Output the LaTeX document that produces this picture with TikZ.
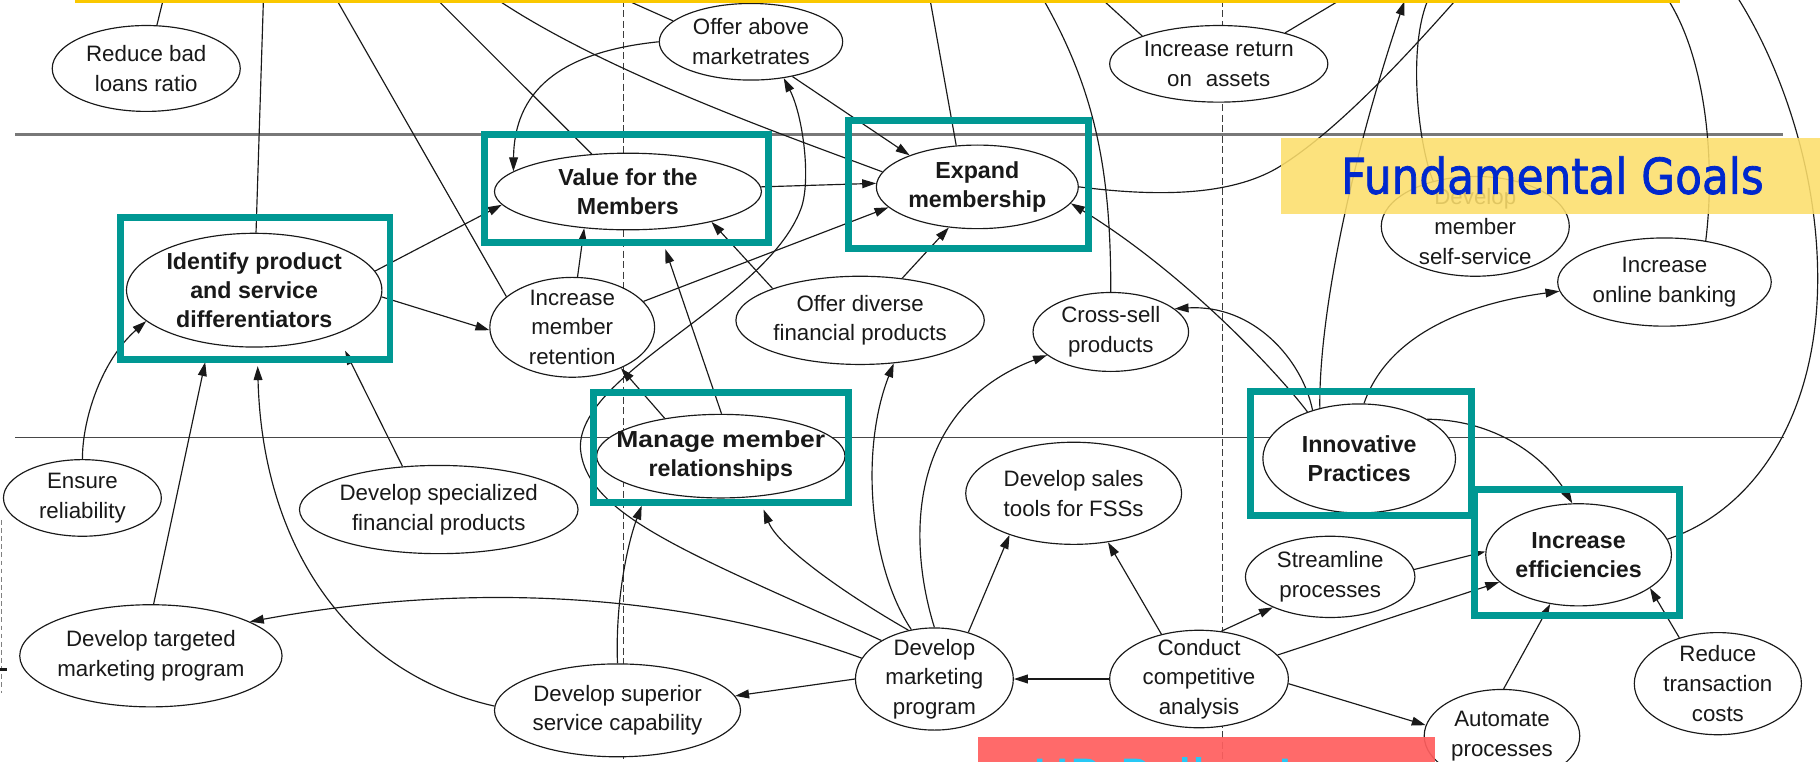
\documentclass[tikz,border=0pt]{standalone}
\usepackage{fontspec}
\setmainfont{Liberation Sans}
\newfontfamily\titlefont[FakeBold=1.6]{DejaVu Sans}
\usetikzlibrary{shapes.geometric,arrows.meta}
\pgfdeclarelayer{back}
\pgfsetlayers{back,main}
\definecolor{ink}{RGB}{25,25,25}
\definecolor{boxteal}{RGB}{0,152,147}
\definecolor{bandyellow}{RGB}{252,222,108}
\definecolor{titleblue}{RGB}{0,40,205}
\definecolor{goldline}{RGB}{250,200,0}
\definecolor{alertred}{RGB}{255,94,94}
\definecolor{hrcyan}{RGB}{40,200,245}
\definecolor{rulegray}{RGB}{120,120,120}

\tikzset{
  goal/.style 2 args={ellipse, draw=ink, line width=0.5pt, fill=white,
    inner sep=-60pt, minimum width=#1pt, minimum height=#2pt,
    align=center, text=ink, font=\fontsize{9.6}{12.8}\selectfont},
  keygoal/.style 2 args={goal={#1}{#2}, font=\fontsize{10}{12.6}\selectfont\bfseries},
  link/.style={draw=ink, line width=0.5pt},
  arr/.style={link, -{Triangle[length=6pt,width=3.8pt]}},
  hilite/.style={draw=boxteal, line width=3pt},
  lane/.style={draw=ink!85, line width=0.5pt, dash pattern=on 3pt off 1.5pt},
}

\begin{document}
\begin{tikzpicture}[x=0.5pt, y=-0.5pt]
\useasboundingbox (0,0) rectangle (1568,656);
\clip (0,0) rectangle (1568,656);

% ---------- objectives ----------
\node[goal={81}{37}] (rbl) at (126,59) {Reduce bad\\loans ratio};
\node[goal={79}{33}] (oam) at (647,36) {Offer above\\marketrates};
\node[goal={94}{33}] (iroa) at (1050,55) {Increase return\\on\hspace{6pt}assets};
\node[keygoal={115}{33}] (vfm) at (541,165) {Value for the\\Members};
\node[keygoal={87}{36}] (exm) at (842,161) {Expand\\membership};
\node[keygoal={110}{49}] (ipsd) at (219,250) {Identify product\\and service\\differentiators};
\node[goal={71}{43}] (imr) at (493,282) {Increase\\member\\retention};
\node[goal={107}{38}] (odfp) at (741,276) {Offer diverse\\financial products};
\node[goal={67}{34}] (csp) at (957,286) {Cross-sell\\products};
\node[goal={81}{43}] (dmss) at (1271,195) {Develop\\member\\self-service};
\node[goal={92}{38}] (iob) at (1434,243) {Increase\\online banking};
\node[keygoal={83}{47}] (ip) at (1171,395) {Innovative\\Practices};
\node[keygoal={80}{44}] (ie) at (1360,478) {Increase\\efficiencies};
\node[keygoal={107}{36}] (mmr) at (621,393) {\scalebox{1.14}[1]{Manage member}\\relationships};
\node[goal={68}{33}] (er) at (71,429) {Ensure\\reliability};
\node[goal={120}{38}] (dsfp) at (378,439) {Develop specialized\\financial products};
\node[goal={93}{44}] (dst) at (925,425) {Develop sales\\tools for FSSs};
\node[goal={73}{35}] (sp) at (1146,497) {Streamline\\processes};
\node[goal={113}{44}] (dtmp) at (130,565) {Develop targeted\\marketing program};
\node[goal={106}{40}] (dssc) at (532,612) {Develop superior\\service capability};
\node[goal={68}{44}] (dmp) at (805,585) {Develop\\marketing\\program};
\node[goal={77}{42}] (cca) at (1033,585) {Conduct\\competitive\\analysis};
\node[goal={67}{40}] (ap) at (1294,634) {Automate\\processes};
\node[goal={72}{44}] (rtc) at (1480,589) {Reduce\\transaction\\costs};

% ends of links that leave the sheet at the top
\coordinate (t1) at (141,-2);
\coordinate (t2) at (227,-2);
\coordinate (t3) at (289,-2);
\coordinate (t4) at (375,-2);
\coordinate (t5) at (426,-2);
\coordinate (t6) at (535,-2);
\coordinate (t7) at (801,-2);
\coordinate (t8) at (898,-2);
\coordinate (t9) at (948,-2);
\coordinate (t10) at (1158,-2);
\coordinate (t11) at (1256,-2);
\coordinate (t12) at (1210,1);
\coordinate (t13) at (1231,-2);
\coordinate (t14) at (1436,-2);
\coordinate (t15) at (1497,-2);

\begin{pgfonlayer}{back}
\clip (0,0) rectangle (1568,656);
\fill[white] (0,0) rectangle (1568,656);
% tier rules and column guides
\draw[rulegray, line width=1pt] (13,116) -- (1536,116);
\draw[ink!80, line width=0.6pt] (13,377) -- (1537,377);
\draw[lane] (537,0) -- (537,656);
\draw[lane] (1053,0) -- (1053,656);
\draw[gray, line width=0.4pt, dash pattern=on 2pt off 1.5pt] (1,448) -- (1,597);
\draw[ink, line width=1.3pt] (0,577) -- (6,577);

% links leaving the top
\draw[link] (rbl) -- (t1);
\draw[link] (ipsd) -- (t2);
\draw[link] (imr.155) -- (t3);
\draw[link] (vfm.134) -- (t4);
\draw[link] (t5) .. controls (520,62) and (680,118) .. (exm.171);
\draw[link] (oam.165) -- (t6);
\draw[link] (exm.117) -- (t7);
\draw[link] (csp.90) .. controls (957,150) and (945,80) .. (t8);
\draw[link] (iroa.160) -- (t9);
\draw[link] (iroa.25) -- (t10);
\draw[link] (exm.0) .. controls (1000,170) and (1060,168) .. (1100,145)
  .. controls (1150,115) and (1210,50) .. (t11);
\draw[arr] (ip.128) .. controls (1136,280) and (1160,150) .. (t12);
\draw[link] (dmss.133) .. controls (1222,125) and (1212,40) .. (t13);
\draw[link] (iob.45) .. controls (1478,140) and (1470,50) .. (t14);
\draw[link] (ie.10) .. controls (1510,440) and (1566,360) .. (1566,240)
  .. controls (1566,140) and (1530,50) .. (t15);

% means-ends links
\draw[arr] (oam.180) .. controls (480,45) and (443,80) .. (vfm.170);
\draw[arr] (oam.-40) -- (exm.155);
\draw[arr] (vfm.2) -- (exm.178);
\draw[arr] (imr.20) -- (exm.193);
\draw[arr] (odfp.45) -- (exm.-125);
\draw[arr] (odfp.160) -- (vfm.-20);
\draw[arr] (imr.84) -- (vfm.-140);
\draw[arr, shorten >=9pt] (mmr.89) -- (vfm.-51);
\draw[arr] (mmr.146) -- (imr.-40);
\draw[arr] (ipsd.9) -- (vfm.186);
\draw[arr] (ipsd.-3) -- (imr.182);
\draw[arr] (er.90) .. controls (71,360) and (88,310) .. (ipsd.196);
\draw[arr, shorten >=8pt] (dtmp.87) -- (ipsd.-130);
\draw[arr, shorten >=8pt] (dssc.178) .. controls (300,580) and (226,470) .. (ipsd.-87);
\draw[arr, shorten >=8pt] (dsfp.130) -- (ipsd.-28);
\draw[arr, shorten >=7pt] (dssc.90) .. controls (530,520) and (540,470) .. (mmr.205);
\draw[arr, shorten >=6pt] (dmp.118) .. controls (725,510) and (670,470) .. (mmr.-47);
\draw[arr] (dmp.144) .. controls (601,479) and (503,445) .. (500,385)
  .. controls (500,320) and (660,260) .. (690,180)
  .. controls (699,156) and (692,100) .. (oam.-48);
\draw[arr] (dmp.164) .. controls (600,515) and (420,498) .. (dtmp.19);
\draw[arr] (dmp.180) -- (dssc.7);
\draw[arr] (dmp.115) .. controls (750,490) and (740,390) .. (odfp.-52);
\draw[arr] (dmp.90) .. controls (780,460) and (785,350) .. (csp.200);
\draw[arr] (dmp.54) -- (dst.213);
\draw[arr] (cca.180) -- (dmp.0);
\draw[arr] (cca.130) -- (dst.-55);
\draw[arr] (cca.65) -- (sp.208);
\draw[arr] (cca.17) -- (ie.199);
\draw[arr] (cca.-3) -- (ap.172);
\draw[arr] (sp.5) -- (ie.178);
\draw[arr] (ap.88) -- (ie.-120);
\draw[arr] (rtc.130) -- (ie.-25);
\draw[arr] (ip.30) .. controls (1295,362) and (1335,400) .. (ie.97);
\draw[arr] (ip.85) .. controls (1195,290) and (1260,262) .. (iob.185);
\draw[arr] (ip.134) .. controls (1122,310) and (1080,262) .. (csp.20);
\draw[arr] (ip.138) .. controls (1100,320) and (1020,235) .. (exm.-10);
\end{pgfonlayer}

% ---------- highlight frames ----------
\draw[hilite] (104,187) rectangle (336,310);
\draw[hilite] (417,116) rectangle (662,209);
\draw[hilite] (731,104) rectangle (938,214);
\draw[hilite] (511,338) rectangle (731,433);
\draw[hilite] (1077,337) rectangle (1268,444);
\draw[hilite] (1270,422) rectangle (1447,530);

% ---------- captions ----------
\fill[bandyellow, fill opacity=0.88] (1104,119) rectangle (1568,184);
\node[anchor=base west, inner sep=0pt, text=titleblue,
  font=\titlefont\fontsize{21.3}{24}\selectfont] (fg) at (1155,167)
  {\scalebox{0.885}[1]{Fundamental Goals}};
\fill[alertred, fill opacity=0.92] (843,635) rectangle (1236,660);
\node[anchor=base west, inner sep=0pt, text=hrcyan,
  font=\titlefont\fontsize{21.3}{24}\selectfont] (hr) at (889,685)
  {HR Policy Levers};
\draw[goldline, line width=1.5pt] (65,1) -- (1447,1);
\end{tikzpicture}
\end{document}
